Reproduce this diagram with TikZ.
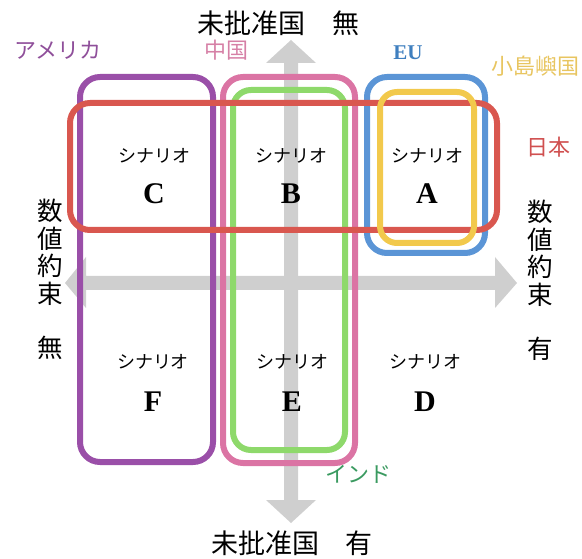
\documentclass[tikz,border=0pt]{standalone}
\usepackage{fontspec}
\setmainfont{Liberation Serif}
\newfontfamily\jp{Noto Sans CJK JP}
\definecolor{cpurple}{HTML}{9A4FA8}
\definecolor{cpink}{HTML}{DB74A4}
\definecolor{cgreen}{HTML}{8ED96B}
\definecolor{cblue}{HTML}{5B95D6}
\definecolor{cyellow}{HTML}{F2C94C}
\definecolor{cred}{HTML}{D9574F}
\definecolor{tpurple}{HTML}{8F4F9A}
\definecolor{tpink}{HTML}{D680A6}
\definecolor{tblue}{HTML}{3F7FBF}
\definecolor{tyellow}{HTML}{E8C560}
\definecolor{tred}{HTML}{D05050}
\definecolor{tgreen}{HTML}{3A9A60}
\definecolor{agray}{HTML}{CFCFCF}
\tikzset{
  group/.style={line width=6pt, rounded corners=20pt},
  scen/.style={font=\jp\fontsize{18}{18}\selectfont, inner sep=0pt},
  letter/.style={font=\bfseries\fontsize{30}{30}\selectfont, inner sep=0pt},
  axislab/.style={font=\jp\fontsize{27}{27}\selectfont, inner sep=0pt},
  vlab/.style={font=\jp\fontsize{25.5}{25.5}\selectfont, inner sep=0pt},
  glab/.style={font=\jp\fontsize{22}{22}\selectfont, inner sep=0pt},
}
\begin{document}
\begin{tikzpicture}[x=1pt,y=-1pt]
\useasboundingbox (0,0) rectangle (582,559);
% gray axes arrows
\fill[agray] (291,40) -- (316,63) -- (298,63) -- (298,500) -- (316,500) -- (291,523)
  -- (266,500) -- (284,500) -- (284,63) -- (266,63) -- cycle;
\fill[agray] (65,283) -- (86,257) -- (86,276) -- (495,276) -- (495,257) -- (517,283)
  -- (495,308) -- (495,290) -- (86,290) -- (86,308) -- cycle;
% group boxes
\draw[group, cpurple] (80,77) rectangle (213,462);
\draw[group, cpink] (223,77) rectangle (355,463);
\draw[group, cgreen, rounded corners=18pt] (233,90) rectangle (345,450);
\draw[group, cblue] (367,77) rectangle (485,253);
\draw[group, cred] (70,103) rectangle (497,230);
\draw[group, cyellow, rounded corners=17pt] (380,92) rectangle (474,243);
% scenario labels
\node[scen] (sc) at (154,156) {シナリオ};
\node[letter] (lc) at (154,194) {C};
\node[scen] (sb) at (291,156) {シナリオ};
\node[letter] (lb) at (291,194) {B};
\node[scen] (sa) at (427,156) {シナリオ};
\node[letter] (la) at (427,194) {A};
\node[scen] (sf) at (153,362) {シナリオ};
\node[letter] (lf) at (153,402) {F};
\node[scen] (se) at (292,362) {シナリオ};
\node[letter] (le) at (292,402) {E};
\node[scen] (sd) at (425,362) {シナリオ};
\node[letter] (ld) at (425,402) {D};
% axis labels
\node[axislab] (top) at (278,23) {未批准国　無};
\node[axislab] (bot) at (292,543) {未批准国　有};
\node[vlab] (l1) at (50,211) {数};
\node[vlab] (l2) at (50,238.5) {値};
\node[vlab] (l3) at (50,266) {約};
\node[vlab] (l4) at (50,293.5) {束};
\node[vlab] (lvn) at (50,348) {無};
\node[vlab] (r1) at (540,212) {数};
\node[vlab] (r2) at (540,239.5) {値};
\node[vlab] (r3) at (540,267) {約};
\node[vlab] (r4) at (540,294.5) {束};
\node[vlab] (rvy) at (540,349) {有};
% group labels
\node[glab, text=tpurple] (lam) at (58,50) {アメリカ};
\node[glab, text=tpink] (lcn) at (226,50) {中国};
\node[text=tblue, font=\bfseries\fontsize{21}{21}\selectfont, inner sep=0pt] (leu) at (408,53) {EU};
\node[glab, text=tyellow] (lsi) at (535,66) {小島嶼国};
\node[glab, text=tred] (ljp) at (548,147) {日本};
\node[glab, text=tgreen] (lin) at (358,474) {インド};
\end{tikzpicture}
\end{document}
